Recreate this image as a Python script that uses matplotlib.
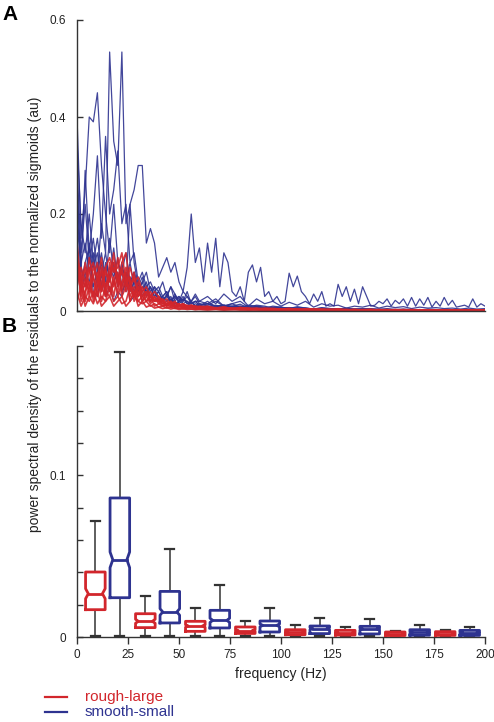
import numpy as np
import matplotlib
matplotlib.use("Agg")
import matplotlib.pyplot as plt
from matplotlib.lines import Line2D

plt.rcParams['font.family'] = ['Liberation Sans', 'DejaVu Sans']

RED = '#d2262c'
BLUE = '#2e3390'
GRAY = '#333333'

# ---------------- Panel A data: spectra (power vs frequency) ----------------
freq_fine = np.arange(0, 201, 2)                     # 101 points
freq_coarse = np.concatenate([np.arange(0, 61, 2), np.arange(64, 201, 4)])  # 66 points

blue_spec_1 = [
    0.30, 0.12, 0.22, 0.10, 0.15, 0.08, 0.18, 0.12, 0.534, 0.35,
    0.30, 0.534, 0.18, 0.22, 0.25, 0.30, 0.30, 0.14, 0.17, 0.14,
    0.07, 0.09, 0.11, 0.08, 0.10, 0.06, 0.04, 0.09, 0.20, 0.10,
    0.13, 0.06, 0.14, 0.08, 0.15, 0.05, 0.12, 0.10, 0.04, 0.03,
    0.05, 0.02, 0.08, 0.095, 0.06, 0.09, 0.03, 0.04, 0.02, 0.03,
    0.015, 0.02, 0.078, 0.05, 0.072, 0.04, 0.03, 0.015, 0.035, 0.02,
    0.04, 0.01, 0.015, 0.01, 0.055, 0.03, 0.05, 0.02, 0.045, 0.015,
    0.05, 0.03, 0.01, 0.012, 0.02, 0.015, 0.025, 0.01, 0.022, 0.015,
    0.025, 0.01, 0.028, 0.01, 0.025, 0.012, 0.028, 0.008, 0.02, 0.01,
    0.028, 0.012, 0.022, 0.008, 0.01, 0.012, 0.008, 0.025, 0.008, 0.015,
    0.01]

blue_spec_2 = [
    0.40, 0.15, 0.25, 0.40, 0.39, 0.45, 0.30, 0.20, 0.12, 0.22,
    0.10, 0.08, 0.12, 0.06, 0.08, 0.05, 0.04, 0.06, 0.03, 0.04,
    0.02, 0.03, 0.02, 0.025, 0.015, 0.02, 0.03, 0.015, 0.02, 0.01,
    0.015, 0.01, 0.012, 0.008, 0.01, 0.006, 0.009, 0.005, 0.007, 0.006,
    0.005, 0.006, 0.004, 0.005, 0.004, 0.003, 0.005, 0.004, 0.003, 0.004,
    0.003, 0.004, 0.003, 0.002, 0.003, 0.003, 0.002, 0.003, 0.002, 0.002,
    0.003, 0.002, 0.002, 0.003, 0.002, 0.002]

blue_spec_3 = [
    0.25, 0.08, 0.29, 0.12, 0.20, 0.32, 0.15, 0.36, 0.20, 0.25,
    0.33, 0.18, 0.22, 0.10, 0.12, 0.06, 0.08, 0.05, 0.06, 0.04,
    0.05, 0.03, 0.04, 0.02, 0.03, 0.025, 0.02, 0.03, 0.015, 0.02,
    0.012, 0.015, 0.01, 0.012, 0.008, 0.01, 0.007, 0.009, 0.006, 0.008,
    0.006, 0.007, 0.005, 0.006, 0.004, 0.005, 0.004, 0.005, 0.003, 0.004,
    0.004, 0.003, 0.004, 0.003, 0.003, 0.002, 0.003, 0.002, 0.003, 0.002,
    0.002, 0.003, 0.002, 0.002, 0.002, 0.002]

blue_spec_4 = [
    0.35, 0.18, 0.12, 0.20, 0.10, 0.15, 0.08, 0.12, 0.06, 0.10,
    0.05, 0.08, 0.04, 0.22, 0.10, 0.05, 0.07, 0.04, 0.05, 0.03,
    0.04, 0.02, 0.03, 0.05, 0.02, 0.03, 0.02, 0.04, 0.015, 0.02,
    0.02, 0.015, 0.025, 0.01, 0.015, 0.02, 0.008, 0.012, 0.01, 0.006,
    0.008, 0.005, 0.007, 0.006, 0.004, 0.006, 0.005, 0.003, 0.005, 0.004,
    0.003, 0.004, 0.003, 0.003, 0.002, 0.003, 0.002, 0.003, 0.002, 0.002,
    0.002, 0.002, 0.003, 0.002, 0.002, 0.002]

blue_spec_5 = [
    0.20, 0.10, 0.14, 0.08, 0.12, 0.06, 0.10, 0.05, 0.09, 0.07,
    0.11, 0.05, 0.08, 0.04, 0.06, 0.03, 0.05, 0.04, 0.03, 0.05,
    0.02, 0.03, 0.04, 0.02, 0.03, 0.02, 0.025, 0.015, 0.02, 0.03,
    0.015, 0.012, 0.02, 0.01, 0.015, 0.008, 0.012, 0.01, 0.006, 0.01,
    0.008, 0.005, 0.009, 0.006, 0.004, 0.007, 0.005, 0.004, 0.006, 0.003,
    0.005, 0.004, 0.003, 0.005, 0.003, 0.004, 0.003, 0.002, 0.004, 0.003,
    0.002, 0.003, 0.002, 0.003, 0.002, 0.002]

blue_spec_6 = [
    0.15, 0.06, 0.10, 0.13, 0.05, 0.08, 0.12, 0.06, 0.15, 0.08,
    0.06, 0.10, 0.05, 0.07, 0.04, 0.06, 0.03, 0.05, 0.02, 0.04,
    0.03, 0.02, 0.035, 0.015, 0.025, 0.03, 0.015, 0.02, 0.01, 0.015,
    0.01, 0.02, 0.008, 0.012, 0.01, 0.014, 0.006, 0.01, 0.008, 0.005,
    0.007, 0.004, 0.006, 0.005, 0.003, 0.005, 0.004, 0.003, 0.004, 0.003,
    0.003, 0.004, 0.002, 0.003, 0.003, 0.002, 0.003, 0.002, 0.002, 0.003,
    0.002, 0.002, 0.002, 0.002, 0.002, 0.002]

blue_spec_7 = [
    0.12, 0.04, 0.08, 0.06, 0.10, 0.05, 0.07, 0.09, 0.04, 0.06,
    0.08, 0.04, 0.06, 0.10, 0.05, 0.04, 0.06, 0.08, 0.04, 0.05,
    0.04, 0.06, 0.03, 0.05, 0.035, 0.02, 0.04, 0.03, 0.02, 0.035,
    0.02, 0.03, 0.015, 0.035, 0.02, 0.03, 0.01, 0.025, 0.015, 0.02,
    0.01, 0.018, 0.012, 0.02, 0.008, 0.015, 0.01, 0.012, 0.006, 0.01,
    0.008, 0.012, 0.006, 0.01, 0.007, 0.009, 0.005, 0.008, 0.006, 0.007,
    0.005, 0.006, 0.004, 0.006, 0.004, 0.005]

blue_spec_8 = [
    0.28, 0.07, 0.05, 0.11, 0.04, 0.03, 0.08, 0.03, 0.05, 0.02,
    0.04, 0.03, 0.07, 0.02, 0.03, 0.05, 0.02, 0.04, 0.03, 0.02,
    0.025, 0.015, 0.02, 0.03, 0.01, 0.02, 0.015, 0.01, 0.02, 0.01,
    0.012, 0.008, 0.01, 0.007, 0.009, 0.005, 0.008, 0.006, 0.005, 0.006,
    0.004, 0.005, 0.003, 0.004, 0.003, 0.004, 0.003, 0.002, 0.003, 0.002,
    0.003, 0.002, 0.002, 0.003, 0.002, 0.002, 0.002, 0.002, 0.002, 0.002,
    0.002, 0.002, 0.002, 0.002, 0.002, 0.002]

blue_spec_9 = [
    0.18, 0.09, 0.06, 0.14, 0.09, 0.12, 0.05, 0.10, 0.07, 0.13,
    0.06, 0.09, 0.07, 0.05, 0.08, 0.04, 0.06, 0.03, 0.05, 0.03,
    0.04, 0.025, 0.03, 0.02, 0.035, 0.015, 0.025, 0.02, 0.015, 0.02,
    0.012, 0.015, 0.01, 0.012, 0.008, 0.01, 0.007, 0.008, 0.006, 0.007,
    0.005, 0.006, 0.004, 0.005, 0.004, 0.004, 0.003, 0.004, 0.003, 0.003,
    0.003, 0.003, 0.002, 0.003, 0.002, 0.003, 0.002, 0.002, 0.002, 0.002,
    0.002, 0.002, 0.002, 0.002, 0.002, 0.002]

red_spec_1 = [
    0.14, 0.05, 0.09, 0.03, 0.07, 0.10, 0.04, 0.08, 0.06, 0.12,
    0.05, 0.09, 0.04, 0.06, 0.03, 0.05, 0.02, 0.04, 0.03, 0.02,
    0.025, 0.015, 0.02, 0.01, 0.018, 0.012, 0.015, 0.008, 0.012, 0.01,
    0.008, 0.01, 0.006, 0.008, 0.005, 0.007, 0.005, 0.006, 0.004, 0.005,
    0.004, 0.005, 0.003, 0.004, 0.003, 0.004, 0.003, 0.003, 0.002, 0.003,
    0.002, 0.003, 0.002, 0.002, 0.003, 0.002, 0.002, 0.002, 0.002, 0.002,
    0.002, 0.002, 0.002, 0.002, 0.002, 0.002]

red_spec_2 = [
    0.10, 0.03, 0.06, 0.09, 0.02, 0.05, 0.08, 0.03, 0.10, 0.05,
    0.11, 0.04, 0.07, 0.03, 0.05, 0.02, 0.03, 0.04, 0.02, 0.03,
    0.015, 0.02, 0.01, 0.015, 0.008, 0.012, 0.01, 0.006, 0.01, 0.008,
    0.006, 0.008, 0.005, 0.006, 0.004, 0.006, 0.004, 0.005, 0.003, 0.004,
    0.003, 0.004, 0.003, 0.003, 0.002, 0.003, 0.002, 0.003, 0.002, 0.002,
    0.002, 0.002, 0.002, 0.002, 0.002, 0.002, 0.001, 0.002, 0.002, 0.001,
    0.002, 0.001, 0.002, 0.001, 0.001, 0.001]

red_spec_3 = [
    0.06, 0.08, 0.02, 0.05, 0.07, 0.03, 0.06, 0.09, 0.04, 0.07,
    0.03, 0.06, 0.08, 0.02, 0.04, 0.05, 0.02, 0.03, 0.015, 0.025,
    0.02, 0.01, 0.015, 0.012, 0.008, 0.01, 0.012, 0.006, 0.008, 0.006,
    0.007, 0.005, 0.006, 0.004, 0.005, 0.003, 0.004, 0.003, 0.004, 0.003,
    0.003, 0.004, 0.002, 0.003, 0.003, 0.002, 0.003, 0.002, 0.002, 0.003,
    0.002, 0.002, 0.003, 0.002, 0.002, 0.002, 0.002, 0.001, 0.002, 0.002,
    0.001, 0.002, 0.002, 0.001, 0.002, 0.001]

red_spec_4 = [
    0.12, 0.02, 0.04, 0.06, 0.03, 0.08, 0.02, 0.05, 0.07, 0.03,
    0.08, 0.03, 0.05, 0.07, 0.02, 0.04, 0.03, 0.02, 0.03, 0.01,
    0.015, 0.01, 0.012, 0.008, 0.01, 0.006, 0.008, 0.005, 0.007, 0.005,
    0.006, 0.004, 0.005, 0.004, 0.003, 0.005, 0.003, 0.004, 0.003, 0.003,
    0.002, 0.003, 0.003, 0.002, 0.003, 0.002, 0.002, 0.003, 0.002, 0.002,
    0.002, 0.001, 0.002, 0.002, 0.001, 0.002, 0.002, 0.001, 0.002, 0.001,
    0.001, 0.002, 0.001, 0.001, 0.002, 0.001]

red_spec_5 = [
    0.04, 0.01, 0.03, 0.02, 0.04, 0.015, 0.03, 0.02, 0.05, 0.02,
    0.03, 0.015, 0.02, 0.05, 0.03, 0.02, 0.015, 0.02, 0.01, 0.015,
    0.008, 0.01, 0.006, 0.008, 0.005, 0.006, 0.004, 0.005, 0.004, 0.003,
    0.004, 0.003, 0.004, 0.002, 0.003, 0.003, 0.002, 0.003, 0.002, 0.002,
    0.003, 0.002, 0.002, 0.002, 0.001, 0.002, 0.002, 0.001, 0.002, 0.002,
    0.001, 0.002, 0.001, 0.001, 0.002, 0.001, 0.001, 0.001, 0.002, 0.001,
    0.001, 0.001, 0.001, 0.002, 0.001, 0.001]

red_spec_6 = [
    0.08, 0.04, 0.10, 0.05, 0.03, 0.06, 0.11, 0.04, 0.03, 0.06,
    0.04, 0.10, 0.12, 0.05, 0.07, 0.03, 0.04, 0.02, 0.03, 0.02,
    0.02, 0.015, 0.01, 0.02, 0.008, 0.012, 0.006, 0.01, 0.008, 0.005,
    0.007, 0.006, 0.004, 0.006, 0.005, 0.004, 0.005, 0.003, 0.004, 0.004,
    0.003, 0.004, 0.003, 0.002, 0.003, 0.003, 0.002, 0.002, 0.003, 0.002,
    0.002, 0.002, 0.002, 0.001, 0.002, 0.002, 0.002, 0.001, 0.002, 0.002,
    0.001, 0.002, 0.001, 0.002, 0.001, 0.002]

red_spec_7 = [
    0.02, 0.05, 0.01, 0.03, 0.015, 0.04, 0.01, 0.02, 0.03, 0.01,
    0.02, 0.03, 0.01, 0.02, 0.04, 0.01, 0.02, 0.008, 0.012, 0.006,
    0.008, 0.005, 0.007, 0.004, 0.006, 0.003, 0.005, 0.003, 0.004, 0.003,
    0.003, 0.002, 0.003, 0.002, 0.003, 0.002, 0.002, 0.002, 0.001, 0.002,
    0.002, 0.001, 0.002, 0.001, 0.001, 0.002, 0.001, 0.001, 0.001, 0.001,
    0.001, 0.001, 0.001, 0.001, 0.001, 0.001, 0.001, 0.001, 0.001, 0.001,
    0.001, 0.001, 0.001, 0.001, 0.001, 0.001]

red_spec_8 = [
    0.09, 0.06, 0.03, 0.11, 0.07, 0.04, 0.09, 0.05, 0.08, 0.10,
    0.06, 0.08, 0.05, 0.09, 0.06, 0.07, 0.04, 0.05, 0.03, 0.04,
    0.03, 0.02, 0.025, 0.015, 0.02, 0.01, 0.015, 0.01, 0.012, 0.008,
    0.01, 0.008, 0.006, 0.008, 0.005, 0.007, 0.006, 0.004, 0.006, 0.005,
    0.004, 0.005, 0.004, 0.003, 0.004, 0.003, 0.003, 0.004, 0.003, 0.002,
    0.003, 0.003, 0.002, 0.003, 0.002, 0.002, 0.003, 0.002, 0.002, 0.002,
    0.002, 0.002, 0.002, 0.002, 0.002, 0.002]

red_spec_9 = [
    0.11, 0.07, 0.05, 0.08, 0.10, 0.06, 0.04, 0.09, 0.11, 0.08,
    0.09, 0.12, 0.06, 0.04, 0.08, 0.03, 0.05, 0.03, 0.04, 0.02,
    0.03, 0.02, 0.015, 0.02, 0.012, 0.015, 0.01, 0.012, 0.008, 0.01,
    0.008, 0.006, 0.007, 0.005, 0.006, 0.004, 0.005, 0.004, 0.004, 0.003,
    0.004, 0.003, 0.003, 0.004, 0.003, 0.002, 0.003, 0.003, 0.002, 0.003,
    0.002, 0.003, 0.002, 0.002, 0.002, 0.003, 0.002, 0.002, 0.002, 0.002,
    0.002, 0.002, 0.002, 0.002, 0.002, 0.002]

red_spec_10 = [
    0.07, 0.09, 0.06, 0.04, 0.09, 0.07, 0.05, 0.03, 0.07, 0.09,
    0.07, 0.05, 0.09, 0.06, 0.03, 0.06, 0.03, 0.04, 0.02, 0.03,
    0.02, 0.025, 0.012, 0.018, 0.01, 0.014, 0.008, 0.011, 0.007, 0.009,
    0.006, 0.007, 0.005, 0.006, 0.004, 0.005, 0.004, 0.004, 0.003, 0.004,
    0.003, 0.003, 0.002, 0.003, 0.003, 0.002, 0.002, 0.003, 0.002, 0.002,
    0.002, 0.002, 0.002, 0.002, 0.001, 0.002, 0.002, 0.002, 0.001, 0.002,
    0.002, 0.001, 0.002, 0.002, 0.001, 0.002]

# ---------------- Panel B data: box statistics per frequency band ----------------
red_pos = [9, 33.5, 58, 82.5, 107, 131.5, 156, 180.5]
blue_pos = [21, 45.5, 70, 94.5, 119, 143.5, 168, 192.5]

red_whislo = [0.0005, 0.0005, 0.0005, 0.0005, 0.0005, 0.0005, 0.0005, 0.0005]
red_q1 = [0.0169, 0.0058, 0.0035, 0.0022, 0.0014, 0.0012, 0.0009, 0.0010]
red_med = [0.0268, 0.0097, 0.0068, 0.0040, 0.0029, 0.0025, 0.0018, 0.0020]
red_q3 = [0.0402, 0.0144, 0.0097, 0.0062, 0.0045, 0.0041, 0.0031, 0.0033]
red_whishi = [0.0716, 0.0252, 0.0181, 0.0099, 0.0074, 0.0060, 0.0037, 0.0041]
red_cilo = [0.0237, 0.0085, 0.0060, 0.0035, 0.0025, 0.0021, 0.0015, 0.0017]
red_cihi = [0.0299, 0.0110, 0.0076, 0.0046, 0.0033, 0.0029, 0.0021, 0.0023]

blue_whislo = [0.0005, 0.0005, 0.0005, 0.0005, 0.0005, 0.0005, 0.0005, 0.0005]
blue_q1 = [0.0243, 0.0087, 0.0056, 0.0031, 0.0021, 0.0019, 0.0011, 0.0010]
blue_med = [0.0478, 0.0155, 0.0103, 0.0072, 0.0052, 0.0049, 0.0028, 0.0026]
blue_q3 = [0.0860, 0.0282, 0.0165, 0.0099, 0.0068, 0.0066, 0.0045, 0.0041]
blue_whishi = [0.1760, 0.0542, 0.0320, 0.0179, 0.0115, 0.0111, 0.0072, 0.0064]
blue_cilo = [0.0429, 0.0135, 0.0090, 0.0063, 0.0045, 0.0043, 0.0023, 0.0021]
blue_cihi = [0.0526, 0.0175, 0.0116, 0.0081, 0.0059, 0.0055, 0.0033, 0.0031]

xtick_vals = [0, 25, 50, 75, 100, 125, 150, 175, 200]
legend_labels = ['rough-large', 'smooth-small']

# ---------------- Figure ----------------
W, H = 494, 722
fig = plt.figure(figsize=(W / 100, H / 100), dpi=100)

def fx(px):
    return px / W

def fy(py):
    return 1 - py / H

axA = fig.add_axes([fx(77), fy(311), fx(485) - fx(77), fy(20) - fy(311)])
axB = fig.add_axes([fx(77), fy(637), fx(485) - fx(77), fy(346) - fy(637)])

# Panel A
for s in [blue_spec_9, blue_spec_8, blue_spec_7, blue_spec_6, blue_spec_5,
          blue_spec_4, blue_spec_3, blue_spec_2]:
    axA.plot(freq_coarse, s, color=BLUE, lw=0.9, alpha=0.9)
axA.plot(freq_fine, blue_spec_1, color=BLUE, lw=0.9, alpha=0.9)
for s in [red_spec_1, red_spec_2, red_spec_3, red_spec_4, red_spec_5,
          red_spec_6, red_spec_7, red_spec_8, red_spec_9, red_spec_10]:
    axA.plot(freq_coarse, s, color=RED, lw=1.2, alpha=0.9)

axA.set_xlim(0, 200)
axA.set_ylim(0, 0.6)
axA.set_yticks([0, 0.2, 0.4, 0.6])
axA.set_yticklabels(['0', '0.2', '0.4', '0.6'])
axA.set_xticks([])
for sp in ['top', 'right']:
    axA.spines[sp].set_visible(False)
for sp in ['left', 'bottom']:
    axA.spines[sp].set_color(GRAY)
    axA.spines[sp].set_linewidth(1.0)
axA.tick_params(axis='y', direction='in', length=4, width=1, colors=GRAY,
                labelsize=8.5, labelcolor='#222222', pad=8)

# Panel B
def draw_boxes(ax, pos, wlo, q1, med, q3, whi, clo, chi, color):
    hw = 4.8
    nw = hw * 0.72
    cw = 2.2
    for p, a, b, m, c, d, lo, hi in zip(pos, wlo, q1, med, q3, whi, clo, chi):
        ax.plot([p, p], [c, d], color=GRAY, lw=1.1, zorder=2)
        ax.plot([p, p], [a, b], color=GRAY, lw=1.1, zorder=2)
        ax.plot([p - cw, p + cw], [d, d], color=GRAY, lw=1.6, zorder=2)
        ax.plot([p - cw, p + cw], [a, a], color=GRAY, lw=1.6, zorder=2)
        xs = [p - hw, p + hw, p + hw, p + nw, p + hw, p + hw,
              p - hw, p - hw, p - nw, p - hw, p - hw]
        ys = [b, b, lo, m, hi, c, c, hi, m, lo, b]
        ax.fill(xs, ys, color='white', zorder=3)
        ax.plot(xs, ys, color=color, lw=2.0, zorder=4,
                solid_joinstyle='round')
        ax.plot([p - nw, p + nw], [m, m], color=color, lw=2.0, zorder=4)

draw_boxes(axB, red_pos, red_whislo, red_q1, red_med, red_q3, red_whishi,
           red_cilo, red_cihi, RED)
draw_boxes(axB, blue_pos, blue_whislo, blue_q1, blue_med, blue_q3, blue_whishi,
           blue_cilo, blue_cihi, BLUE)

axB.set_xlim(0, 200)
axB.set_ylim(0, 0.18)
axB.set_xticks(xtick_vals)
axB.set_xticklabels([str(v) for v in xtick_vals])
yt = np.arange(0, 0.1801, 0.02)
axB.set_yticks(yt)
axB.set_yticklabels(['0', '', '', '', '', '0.1', '', '', '', ''])
for sp in ['top', 'right']:
    axB.spines[sp].set_visible(False)
for sp in ['left', 'bottom']:
    axB.spines[sp].set_color(GRAY)
    axB.spines[sp].set_linewidth(1.0)
axB.tick_params(axis='y', direction='in', length=4, width=1, colors=GRAY,
                labelsize=8.5, labelcolor='#222222', pad=8)
axB.tick_params(axis='x', direction='out', length=5, width=1, colors=GRAY,
                labelsize=8.5, labelcolor='#222222', pad=4)
axB.set_xlabel('frequency (Hz)', fontsize=10, color='#222222', labelpad=4)

# shared y label
fig.text(fx(35), fy(314),
         'power spectral density of the residuals to the normalized sigmoids (au)',
         rotation=90, ha='center', va='center', fontsize=10, color='#222222')

# panel letters
fig.text(fx(2), fy(15), 'A', fontsize=15, fontweight='bold', ha='left', va='center')
fig.text(fx(2), fy(327), 'B', fontsize=15, fontweight='bold', ha='left', va='center')

# legend
for lab, col, py in zip(legend_labels, [RED, BLUE], [697, 712]):
    fig.add_artist(Line2D([fx(45), fx(67)], [fy(py), fy(py)], color=col, lw=1.6,
                          transform=fig.transFigure))
    fig.text(fx(85), fy(py), lab, fontsize=11, color=col, ha='left', va='center')

fig.savefig('out.png', dpi=100)
